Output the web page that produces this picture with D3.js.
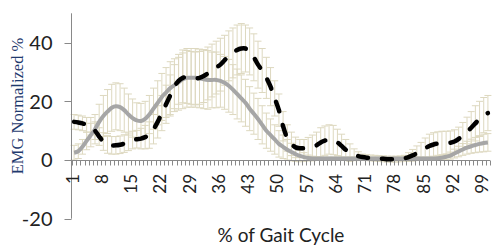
<!DOCTYPE html>
<html>
<head>
<meta charset="utf-8">
<script src="https://cdn.jsdelivr.net/npm/d3@7"></script>
<style>
  html, body { margin: 0; padding: 0; background: #fff; }
  svg { display: block; }
</style>
</head>
<body>
<script>
// categories 1..100 (% of gait cycle)
const categories = d3.range(1, 101);
const tickLabels = [1, 8, 15, 22, 29, 36, 43, 50, 57, 64, 71, 78, 85, 92, 99];
const yTicks = [-20, 0, 20, 40];

// dashed black series
const dashedMean = [
  13, 12.8, 12.5, 12, 11.5, 10, 8, 6.3, 5.3, 5,
  5, 5.2, 5.6, 6.2, 6.8, 7.1, 7.3, 7.8, 8.5, 10.5,
  13, 16, 19, 22, 25, 27, 28, 28.3, 28, 27.8,
  28, 28.6, 29.5, 30.5, 31.5, 32.5, 34, 35.5, 36.5, 37.5,
  38, 38, 37, 35, 32.5, 30.5, 28, 25, 21, 17,
  11.5, 7.5, 5.5, 4.3, 4, 4, 4.2, 4.5, 5, 6,
  6.6, 7, 6.8, 6, 4.8, 3.5, 2.5, 1.8, 1.3, 1,
  0.8, 0.7, 0.6, 0.5, 0.4, 0.3, 0.3, 0.3, 0.4, 0.6,
  1, 1.6, 2.3, 3, 4, 4.8, 5.3, 5.6, 5.8, 5.8,
  5.9, 6.3, 7.2, 8.3, 9.6, 11, 12.5, 14, 15.3, 16
];
const dashedSD = [
  2.5, 2.5, 2.5, 2.5, 3, 3, 3, 3, 3, 3,
  3, 3, 3, 3, 3, 3, 3.5, 4, 4.5, 5,
  5.5, 6, 6.5, 7, 7.5, 8, 8.5, 9, 9, 9,
  9, 9, 9, 9, 9, 9, 8.5, 8.5, 8.5, 8.5,
  8.5, 8, 8, 8, 8, 7.5, 7, 6.5, 6, 5.5,
  5, 4.5, 4, 3.5, 3, 3, 3.5, 4, 4.5, 5,
  5, 5, 5, 4.5, 4, 3.5, 3, 2, 1.5, 1,
  1, 1, 1, 1, 1, 1, 1, 1, 1, 1,
  1.5, 2, 2.5, 3, 3.5, 4, 4, 4, 4, 4,
  4, 4, 4, 4.5, 5, 5.5, 6, 6, 6, 6
];

// solid grey series
const solidMean = [
  2.5, 3, 4.5, 6.5, 8.5, 10.5, 13, 15, 16.5, 17.8,
  18.3, 18, 17, 15.5, 14.3, 13.5, 13.3, 14, 15.5, 17.5,
  19.5, 21.5, 23, 24.5, 25.5, 26.5, 27.5, 28, 28, 28,
  27.8, 27.5, 27.3, 27.3, 27.3, 27, 26.3, 25.3, 24, 22.5,
  21, 19.5, 17.5, 15.8, 14, 12, 10, 8.5, 7, 5.5,
  4.5, 3.5, 2.7, 2, 1.4, 1, 0.7, 0.5, 0.5, 0.5,
  0.5, 0.5, 0.5, 0.5, 0.5, 0.5, 0.5, 0.5, 0.5, 0.5,
  0.5, 0.5, 0.5, 0.5, 0.5, 0.5, 0.5, 0.5, 0.5, 0.5,
  0.5, 0.5, 0.5, 0.5, 0.5, 0.5, 0.5, 0.6, 0.8, 1.1,
  1.5, 2.2, 2.9, 3.6, 4.2, 4.7, 5.1, 5.5, 5.8, 6
];
const solidSD = [
  2.5, 2.5, 2.5, 3, 4, 5, 6, 7, 7.5, 8,
  8, 8, 7.5, 7, 6.5, 6, 6, 6, 6.5, 7,
  7.5, 8, 8.5, 9, 9, 9.5, 10, 10, 10, 10,
  10, 10, 10, 9.5, 9.5, 9, 9, 9, 8.5, 8.5,
  8, 8, 7.5, 7, 7, 6.5, 6, 5.5, 5, 4.5,
  4, 3.5, 3, 2.5, 2, 1.5, 1, 0.8, 0.6, 0.5,
  0.5, 0.5, 0.5, 0.5, 0.5, 0.5, 0.5, 0.5, 0.5, 0.5,
  0.5, 0.5, 0.5, 0.5, 0.5, 0.5, 0.5, 0.5, 0.5, 0.5,
  0.5, 0.5, 0.5, 0.5, 0.5, 0.5, 0.5, 0.5, 0.8, 1,
  1.2, 1.5, 1.8, 2, 2.2, 2.4, 2.6, 2.8, 3, 3
];

const width = 492, height = 248;

const svg = d3.select("body").append("svg")
    .attr("width", width)
    .attr("height", height);

const x = d3.scaleBand().domain(categories).range([72, 490]);
const y = d3.scaleLinear().domain([-20, 50]).range([218.7, 13.3]);
const cx = d => x(d) + x.bandwidth() / 2;

const axisColor = "#898989";
const errColor = "#ddd8bf";
const capW = 7;

// error bars (both series, drawn under the lines)
const errGroup = svg.append("g").attr("stroke", errColor).attr("stroke-width", 1);
[[dashedMean, dashedSD], [solidMean, solidSD]].forEach(([mean, sd]) => {
    const g = errGroup.append("g");
    const bars = g.selectAll("g").data(categories).join("g");
    bars.append("line")
        .attr("x1", (d) => cx(d)).attr("x2", (d) => cx(d))
        .attr("y1", (d, i) => y(mean[i] + sd[i]))
        .attr("y2", (d, i) => y(mean[i] - sd[i]));
    bars.append("line")
        .attr("x1", (d) => cx(d) - capW / 2).attr("x2", (d) => cx(d) + capW / 2)
        .attr("y1", (d, i) => y(mean[i] + sd[i])).attr("y2", (d, i) => y(mean[i] + sd[i]));
    bars.append("line")
        .attr("x1", (d) => cx(d) - capW / 2).attr("x2", (d) => cx(d) + capW / 2)
        .attr("y1", (d, i) => y(mean[i] - sd[i])).attr("y2", (d, i) => y(mean[i] - sd[i]));
});

// y axis
const yAxis = svg.append("g").attr("transform", "translate(71.5,0)");
yAxis.append("line")
    .attr("y1", y(50)).attr("y2", y(-20))
    .attr("stroke", axisColor);
yAxis.selectAll(".tick").data(yTicks).join("line")
    .attr("class", "tick")
    .attr("x1", -7).attr("x2", 0)
    .attr("y1", d => Math.round(y(d)) + 0.5).attr("y2", d => Math.round(y(d)) + 0.5)
    .attr("stroke", axisColor);
yAxis.selectAll(".lbl").data(yTicks).join("text")
    .attr("class", "lbl")
    .attr("x", -19)
    .attr("y", d => y(d))
    .attr("dy", "0.36em")
    .attr("text-anchor", "end")
    .attr("font-family", "Lato, 'Liberation Sans', sans-serif")
    .attr("font-size", 20)
    .attr("fill", "#222")
    .text(d => d);

// x axis at y = 0
const x0 = Math.round(y(0)) + 0.5;
const xAxis = svg.append("g");
xAxis.append("line")
    .attr("x1", 71).attr("x2", 490)
    .attr("y1", x0).attr("y2", x0)
    .attr("stroke", axisColor);
xAxis.selectAll(".tick").data(categories.concat([101])).join("line")
    .attr("class", "tick")
    .attr("x1", d => Math.round(d <= 100 ? x(d) : 490) + 0.5)
    .attr("x2", d => Math.round(d <= 100 ? x(d) : 490) + 0.5)
    .attr("y1", x0).attr("y2", x0 + 5)
    .attr("stroke", axisColor);
xAxis.selectAll(".lbl").data(tickLabels).join("text")
    .attr("class", "lbl")
    .attr("transform", d => `translate(${cx(d) + 4.5},174) rotate(-90)`)
    .attr("text-anchor", "end")
    .attr("font-family", "Lato, 'Liberation Sans', sans-serif")
    .attr("font-size", 17)
    .attr("fill", "#222")
    .text(d => d);

// lines
const line = mean => d3.line()
    .x((d, i) => cx(categories[i]))
    .y(d => y(d))
    .curve(d3.curveCatmullRom.alpha(0.5))(mean);

svg.append("path")
    .attr("d", line(solidMean))
    .attr("fill", "none")
    .attr("stroke", "#a6a6a6")
    .attr("stroke-width", 4)
    .attr("stroke-linejoin", "round");

svg.append("path")
    .attr("d", line(dashedMean))
    .attr("fill", "none")
    .attr("stroke", "#000")
    .attr("stroke-width", 4.5)
    .attr("stroke-dasharray", "10,14")
    .attr("stroke-linecap", "round")
    .attr("stroke-linejoin", "round");

// axis titles
svg.append("text")
    .attr("x", 281)
    .attr("y", 242)
    .attr("text-anchor", "middle")
    .attr("font-family", "Lato, 'Liberation Sans', sans-serif")
    .attr("font-size", 19)
    .attr("fill", "#222")
    .text("% of Gait Cycle");

svg.append("text")
    .attr("transform", "translate(23,106) rotate(-90)")
    .attr("text-anchor", "middle")
    .attr("font-family", "'Liberation Serif', 'DejaVu Serif', serif")
    .attr("font-size", 16.5)
    .attr("fill", "#1f3a6e")
    .text("EMG Normalized %");
</script>
</body>
</html>
